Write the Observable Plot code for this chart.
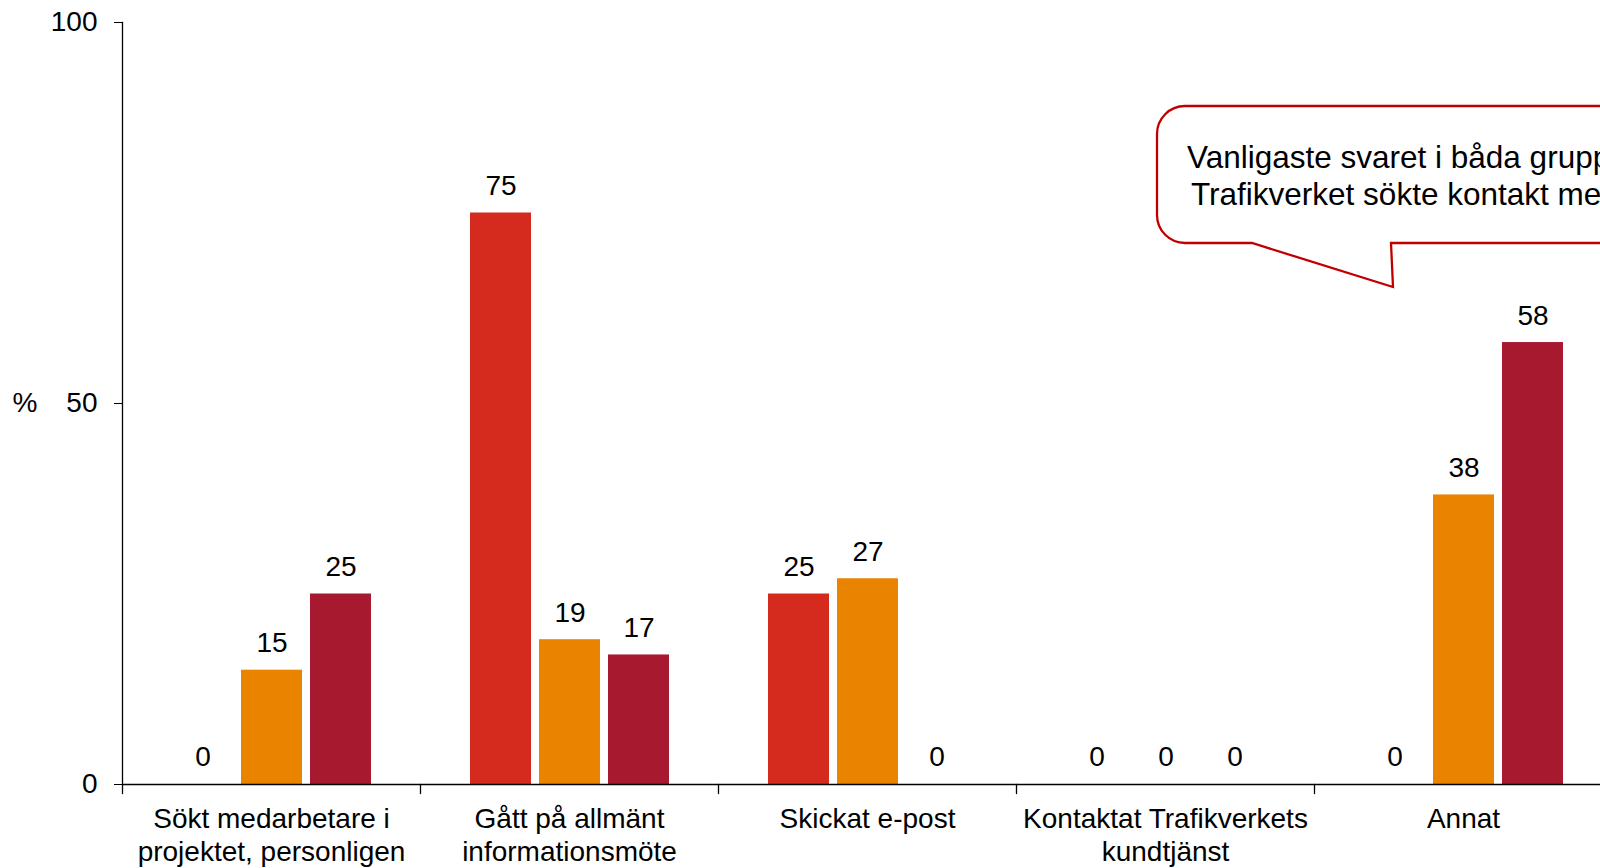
<!DOCTYPE html>
<html><head><meta charset="utf-8">
<script src="https://cdn.jsdelivr.net/npm/d3@7"></script>
<script src="https://cdn.jsdelivr.net/npm/@observablehq/plot@0.6"></script>
<style>
html,body{margin:0;padding:0;overflow:hidden;background:#fff;}
#wrap{position:relative;width:1640px;height:868px;}
#callout{position:absolute;left:0;top:0;}
</style></head><body><div id="wrap"></div>
<script>
const categories = ["Sökt medarbetare i projektet, personligen", "Gått på allmänt informationsmöte", "Skickat e-post", "Kontaktat Trafikverkets kundtjänst", "Annat"];
const categoryLabels = ["Sökt medarbetare i\nprojektet, personligen", "Gått på allmänt\ninformationsmöte", "Skickat e-post", "Kontaktat Trafikverkets\nkundtjänst", "Annat"];
const series = ["Grupp 1", "Grupp 2", "Grupp 3"];
const values1 = [0, 75, 25, 0, 0];
const values2 = [15, 19, 27, 0, 38];
const values3 = [25, 17, 0, 0, 58];
const colors = ["#d52b1e", "#e98300", "#a6192e"];
const yTicks = [0, 50, 100];
const yLabel = "%";
const calloutLines = ["Vanligaste svaret i båda grupperna", "Trafikverket sökte kontakt med"];

const seriesValues = [values1, values2, values3];
const data = [];
categories.forEach((c, i) => series.forEach((s, j) => data.push({category: c, series: s, value: seriesValues[j][i]})));

const font = "'Liberation Sans', Arial, sans-serif";
const tickShape = {draw(ctx, l) { ctx.moveTo(0, 0); ctx.lineTo(0, -l); }};

const chart = Plot.plot({
  width: 1640, height: 868,
  marginLeft: 122, marginRight: 28, marginTop: 22, marginBottom: 84,
  style: {fontFamily: font, fontSize: "28px", color: "#000", background: "#fff"},
  fx: {domain: categories, padding: 0, label: null},
  x: {domain: series, paddingInner: 0.12, paddingOuter: 0.705, axis: null},
  y: {domain: [0, 100], label: null},
  color: {domain: series, range: colors},
  marks: [
    Plot.barY(data, {fx: "category", x: "series", y: "value", fill: "series"}),
    Plot.ruleY([0], {stroke: "#000", strokeWidth: 1.3}),
    Plot.frame({anchor: "left", facetAnchor: "left", stroke: "#000", strokeWidth: 1.3}),
    Plot.vector(categories, {fx: d => d, frameAnchor: "bottom-left", length: 9, rotate: 180, anchor: "start", shape: tickShape, stroke: "#000", strokeWidth: 1.3}),
    Plot.axisY(yTicks, {tickSize: 8, tickPadding: 17, fontSize: 28, label: null}),
    Plot.text([categories[0]], {fx: d => d, text: () => yLabel, frameAnchor: "left", dx: -85, textAnchor: "end", fontSize: 28}),
    Plot.text(data, {fx: "category", x: "series", y: "value", text: d => String(d.value), dy: -27, fontSize: 28, lineAnchor: "middle", fill: "#000"}),
    Plot.axisFx({anchor: "bottom", tickSize: 0, tickPadding: 20, fontSize: 28, lineHeight: 1.18, tickFormat: d => categoryLabels[categories.indexOf(d)], label: null})
  ]
});
document.getElementById("wrap").appendChild(chart);

// Callout annotation
const ns = "http://www.w3.org/2000/svg";
const svg = document.createElementNS(ns, "svg");
svg.setAttribute("id", "callout");
svg.setAttribute("width", 1640);
svg.setAttribute("height", 868);
const bx0 = 1157, bTop = 106, bBot = 243, br = 28;
const path = document.createElementNS(ns, "path");
path.setAttribute("d", `M${bx0 + br},${bTop} H1700 V${bBot} H1391 L1393,287 L1252,${bBot} H${bx0 + br} A${br},${br} 0 0 1 ${bx0},${bBot - br} V${bTop + br} A${br},${br} 0 0 1 ${bx0 + br},${bTop} Z`);
path.setAttribute("fill", "#fff");
path.setAttribute("stroke", "#c00000");
path.setAttribute("stroke-width", 2.3);
svg.appendChild(path);
const linePos = [[1187, 168], [1191, 205]];
calloutLines.forEach((t, i) => {
  const tx = document.createElementNS(ns, "text");
  tx.setAttribute("x", linePos[i][0]);
  tx.setAttribute("y", linePos[i][1]);
  tx.setAttribute("font-family", font);
  tx.setAttribute("font-size", 31.5);
  tx.setAttribute("fill", "#000");
  tx.textContent = t;
  svg.appendChild(tx);
});
document.getElementById("wrap").appendChild(svg);
</script>
</body></html>
